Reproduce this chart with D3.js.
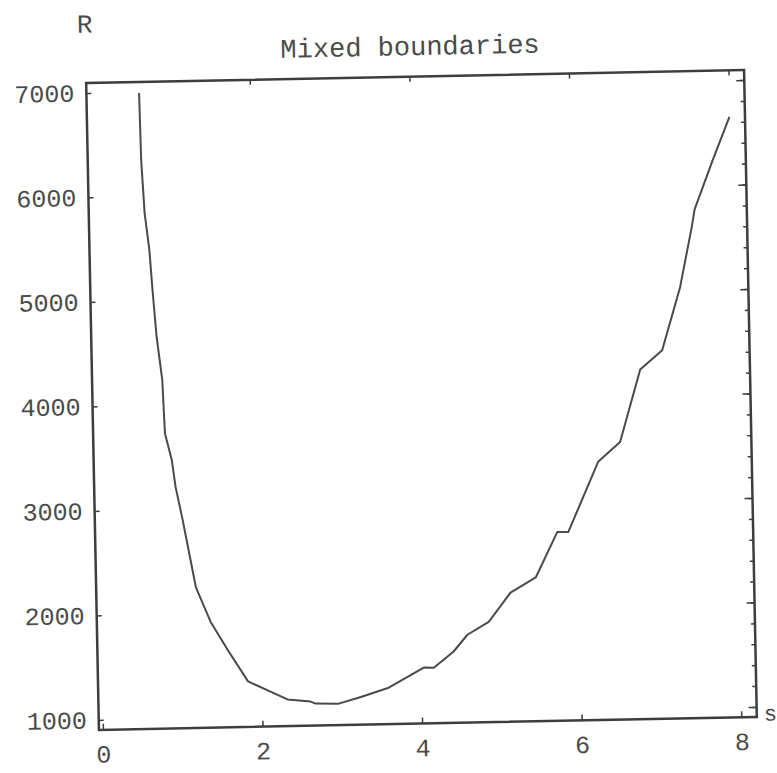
<!DOCTYPE html>
<html>
<head>
<meta charset="utf-8">
<script src="https://cdn.jsdelivr.net/npm/d3@7"></script>
<style>
  body { margin: 0; background: white; }
  svg { display: block; }
</style>
</head>
<body>
<div class="chart"></div>
<script>
// Data
const sValues = [0.61, 0.62, 0.65, 0.70, 0.73, 0.77, 0.83, 0.85, 0.93, 0.97, 1.05, 1.14, 1.20, 1.38, 1.58, 1.83,
  2.32, 2.61, 2.67, 2.96, 3.24, 3.58, 4.04, 4.16, 4.41, 4.59, 4.86, 5.14, 5.46, 5.74, 5.88, 6.27, 6.55,
  6.82, 7.10, 7.34, 7.50, 7.54, 7.78, 8.00];
const rValues = [6990, 6350, 5840, 5490, 5100, 4650, 4240, 3730, 3470, 3215, 2900, 2510, 2250, 1910, 1650, 1340,
  1160, 1135, 1115, 1110, 1170, 1250, 1440, 1435, 1585, 1745, 1865, 2140, 2280, 2710, 2710, 3375, 3560,
  4250, 4430, 5030, 5600, 5770, 6240, 6650];
const xTicks = [0, 2, 4, 6, 8];
const yTicks = [1000, 2000, 3000, 4000, 5000, 6000, 7000];
const yMinorTicks = d3.range(1000, 7001, 200);

// Variables
const width = 777;
const height = 773;
const frameLeft = 92.5;
const frameRight = 750.5;
const frameTop = 76.5;
const frameBottom = 723.5;
const tilt = -1.13;
const ink = '#3d3d3d';
const font = '"Liberation Mono", "Courier New", monospace';

const points = sValues.map((s, i) => ({s: s, r: rValues[i]}));

// Scales
const x = d3.scaleLinear()
  .domain([-0.05, 8.195])
  .range([frameLeft, frameRight]);
const y = d3.scaleLinear()
  .domain([904, 7095])
  .range([frameBottom, frameTop]);

// Append svg
const svg = d3.select('.chart').append('svg')
  .attr('width', width)
  .attr('height', height)
  .style('background-color', 'white');

// the scan is slightly rotated
const g = svg.append('g')
  .attr('transform', `rotate(${tilt}, ${(frameLeft + frameRight) / 2}, ${(frameTop + frameBottom) / 2})`);

// Frame ticks
g.append('g')
  .attr('transform', `translate(0,${frameBottom})`)
  .call(d3.axisBottom(x).tickValues(xTicks).tickSize(-6).tickPadding(15).tickFormat(d3.format('d')))
  .call(ax => ax.select('.domain').remove());
g.append('g')
  .attr('transform', `translate(0,${frameTop})`)
  .call(d3.axisTop(x).tickValues(xTicks.filter(d => d > 0)).tickSize(-5).tickFormat(''))
  .call(ax => ax.select('.domain').remove());
g.append('g')
  .attr('transform', `translate(${frameLeft},0)`)
  .call(d3.axisLeft(y).tickValues(yTicks).tickSize(-5).tickPadding(12).tickFormat(d3.format('d')))
  .call(ax => ax.select('.domain').remove());
g.append('g')
  .attr('transform', `translate(${frameRight},0)`)
  .call(d3.axisRight(y).tickValues(yMinorTicks).tickSize(-4).tickFormat(''))
  .call(ax => ax.select('.domain').remove());
g.append('g')
  .attr('transform', `translate(${frameRight},0)`)
  .call(d3.axisRight(y).tickValues(yTicks).tickSize(-8).tickFormat(''))
  .call(ax => ax.select('.domain').remove());

g.selectAll('.tick line')
  .attr('stroke', ink)
  .attr('stroke-width', 1.5);
g.selectAll('.tick text')
  .attr('fill', '#4a4a4a')
  .style('font-family', font)
  .style('font-size', '25px');

// Frame
g.append('rect')
  .attr('x', frameLeft)
  .attr('y', frameTop)
  .attr('width', frameRight - frameLeft)
  .attr('height', frameBottom - frameTop)
  .attr('fill', 'none')
  .attr('stroke', ink)
  .attr('stroke-width', 2.5);

// Curve
const line = d3.line()
  .x(d => x(d.s))
  .y(d => y(d.r));
g.append('path')
  .datum(points)
  .attr('d', line)
  .attr('fill', 'none')
  .attr('stroke', '#4a4a4a')
  .attr('stroke-width', 2)
  .attr('stroke-linejoin', 'round');

// Labels
g.append('text')
  .attr('x', 417)
  .attr('y', 55)
  .attr('text-anchor', 'middle')
  .attr('fill', '#4a4a4a')
  .style('font-family', font)
  .style('font-size', '27px')
  .text('Mixed boundaries');
g.append('text')
  .attr('x', 92)
  .attr('y', 26)
  .attr('text-anchor', 'middle')
  .attr('fill', '#4a4a4a')
  .style('font-family', font)
  .style('font-size', '26px')
  .text('R');
g.append('text')
  .attr('x', frameRight + 7)
  .attr('y', frameBottom + 4)
  .attr('fill', '#4a4a4a')
  .style('font-family', font)
  .style('font-size', '22px')
  .text('s');
</script>
</body>
</html>
